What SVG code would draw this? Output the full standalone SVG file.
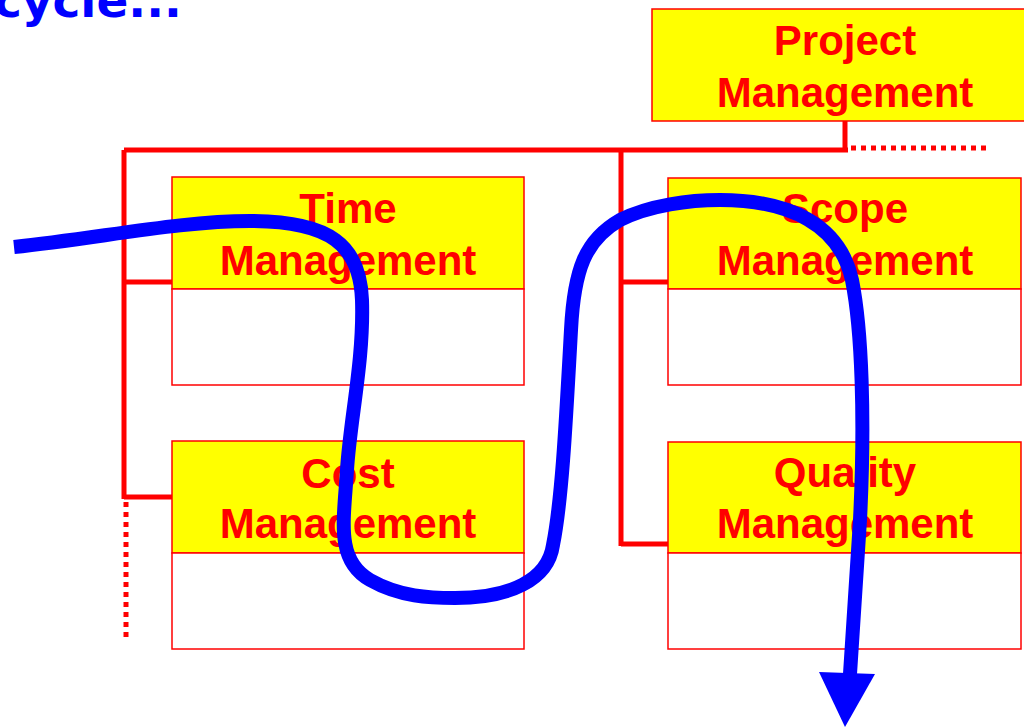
<svg xmlns="http://www.w3.org/2000/svg" width="1024" height="727" viewBox="0 0 1024 727">
<style>
.hdr{fill:#FFFF00;stroke:#FF0000;stroke-width:1.5}
.body{fill:#FFFFFF;stroke:#FF0000;stroke-width:1.5}
.lbl{font-family:"Liberation Sans",Arial,sans-serif;font-weight:bold;font-size:42px;fill:#FF0000;text-anchor:middle}
.tree{fill:none;stroke:#FF0000;stroke-width:5}
.dot{fill:none;stroke:#FF0000;stroke-width:5;stroke-dasharray:5 5}
</style>
<rect width="1024" height="727" fill="#FFFFFF"/>
<text x="-6" y="17" font-family="'Comic Sans MS','DejaVu Sans',sans-serif" font-weight="bold" font-size="47" fill="#0000FF">cycle...</text>
<g id="connectors">
<path class="tree" d="M845 121 V150 M124 150 H848 M124 150 V499 M124 282 H172 M124 497 H172 M621 150 V546 M621 282 H668 M621 544 H668"/>
<path class="dot" d="M851 148 H988"/>
<path class="dot" d="M126 502 V642"/>
</g>
<g id="project">
<rect class="hdr" x="652" y="9" width="380" height="112"/>
<text class="lbl" x="845" y="55">Project</text>
<text class="lbl" x="845" y="107">Management</text>
</g>
<g id="time">
<rect class="hdr" x="172" y="177" width="352" height="112"/>
<rect class="body" x="172" y="289" width="352" height="96"/>
<text class="lbl" x="348" y="223">Time</text>
<text class="lbl" x="348" y="275">Management</text>
</g>
<g id="cost">
<rect class="hdr" x="172" y="441" width="352" height="112"/>
<rect class="body" x="172" y="553" width="352" height="96"/>
<text class="lbl" x="348" y="488">Cost</text>
<text class="lbl" x="348" y="538">Management</text>
</g>
<g id="scope">
<rect class="hdr" x="668" y="178" width="353" height="111"/>
<rect class="body" x="668" y="289" width="353" height="96"/>
<text class="lbl" x="845" y="223">Scope</text>
<text class="lbl" x="845" y="275">Management</text>
</g>
<g id="quality">
<rect class="hdr" x="668" y="442" width="353" height="111"/>
<rect class="body" x="668" y="553" width="353" height="96"/>
<text class="lbl" x="845" y="487">Quality</text>
<text class="lbl" x="845" y="538">Management</text>
</g>
<g id="flow">
<path d="M14 247 C100 238,180 221,250 221 C330 221,360 245,362 300 C364 360,350 420,347 470 C344 520,335 560,370 580 C400 597,430 598,455 598 C510 598,548 580,553 545 C562 500,566 420,571 330 C574 270,585 240,620 220 C650 205,690 200,720 200 C790 200,840 225,852 280 C862 330,865 420,860 520 L850 674" fill="none" stroke="#0000FF" stroke-width="14"/>
<polygon points="819,672 875,674 845,727" fill="#0000FF"/>
</g>
</svg>
